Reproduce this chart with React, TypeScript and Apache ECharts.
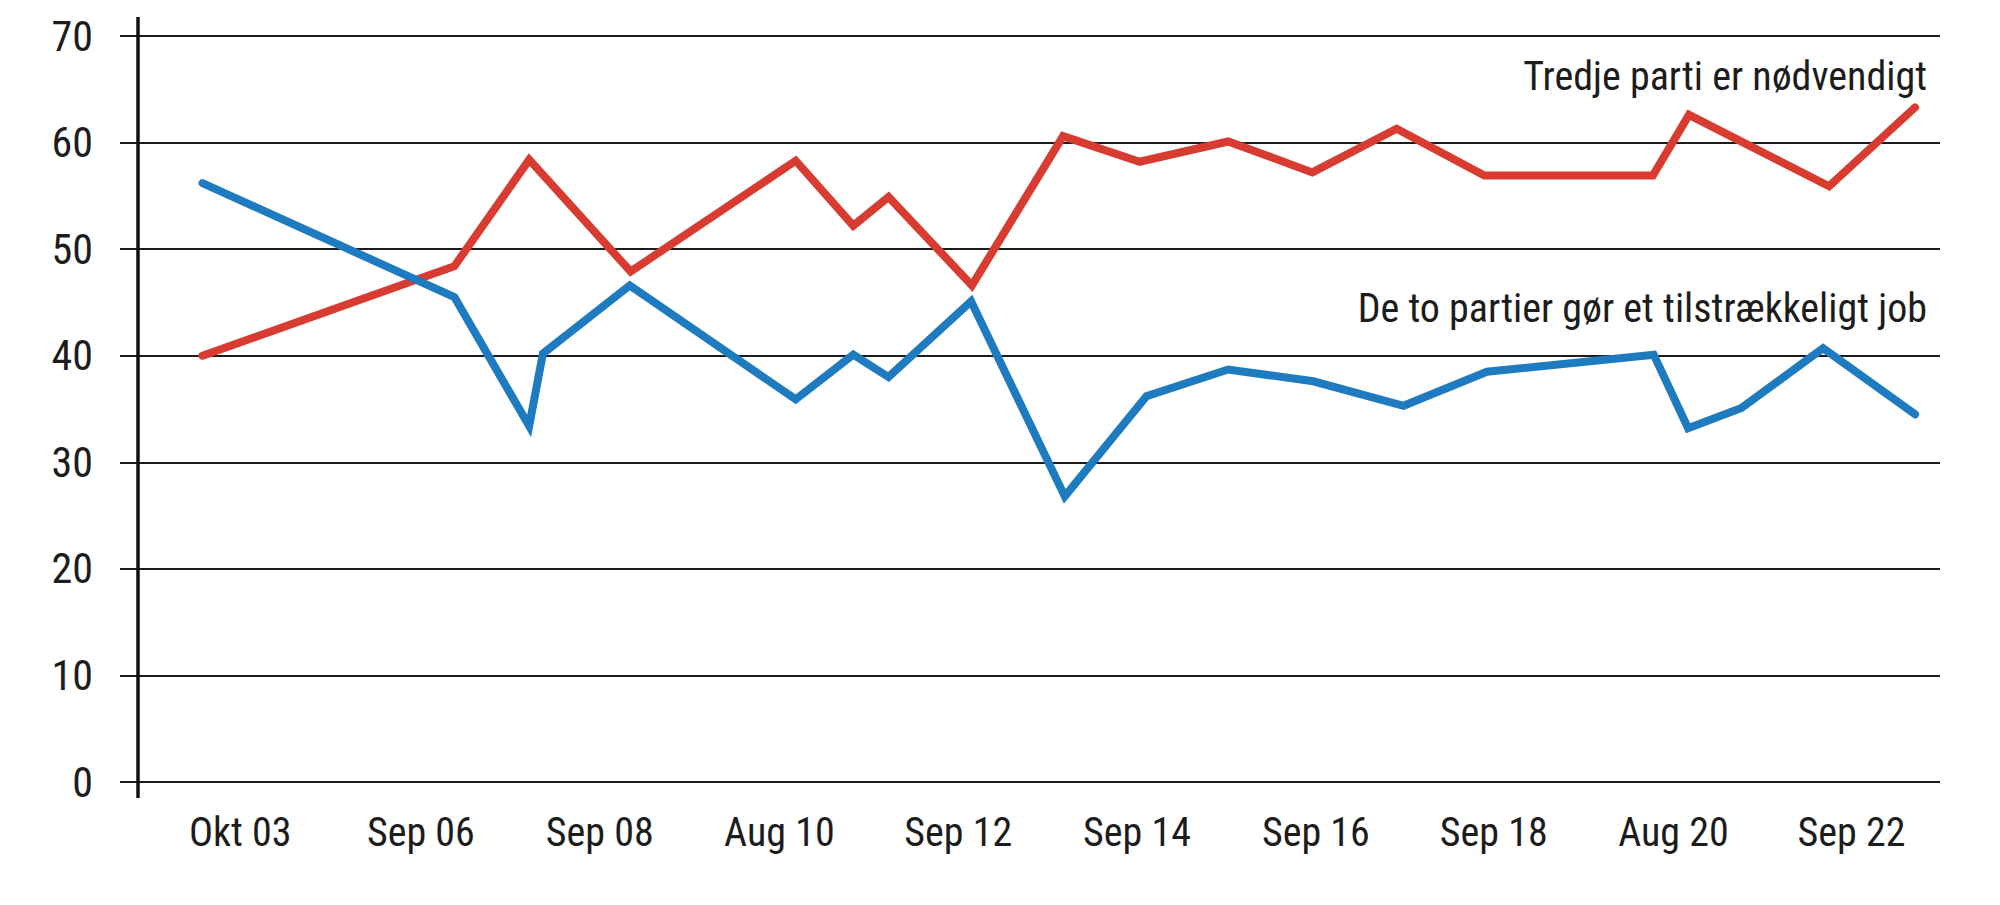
import React, { useEffect, useRef } from "react";
import * as echarts from "echarts";

// x values are decimal years
const redX = [2003.75, 2006.68, 2007.55, 2008.73, 2010.65, 2011.32, 2011.73, 2012.7, 2013.76, 2014.65, 2015.68, 2016.66, 2017.64, 2018.66, 2020.62, 2021.04, 2022.67, 2023.67];
const redY = [40.0, 48.4, 58.4, 47.9, 58.3, 52.2, 54.9, 46.6, 60.6, 58.2, 60.1, 57.2, 61.3, 56.9, 56.9, 62.6, 55.9, 63.3];

const blueX = [2003.75, 2006.68, 2007.55, 2007.71, 2008.72, 2010.65, 2011.32, 2011.73, 2012.69, 2013.78, 2014.73, 2015.68, 2016.67, 2017.72, 2018.69, 2020.63, 2021.03, 2021.65, 2022.6, 2023.67];
const blueY = [56.2, 45.5, 33.4, 40.2, 46.6, 35.9, 40.1, 38.0, 45.1, 26.8, 36.2, 38.7, 37.6, 35.3, 38.5, 40.1, 33.2, 35.1, 40.7, 34.5];

const tickLabels = ["Okt 03", "Sep 06", "Sep 08", "Aug 10", "Sep 12", "Sep 14", "Sep 16", "Sep 18", "Aug 20", "Sep 22"];
const tickValues = [2004.19, 2006.29, 2008.37, 2010.46, 2012.54, 2014.62, 2016.7, 2018.77, 2020.86, 2022.93];

const redName = "Tredje parti er nødvendigt";
const blueName = "De to partier gør et tilstrækkeligt job";

const FONT = "'Liberation Sans Narrow', 'Roboto Condensed', 'DejaVu Sans Condensed', sans-serif";
const RED = "#d83b30";
const BLUE = "#1f7bbf";
const INK = "#1c1c1c";

export default function App() {
  const ref = useRef<HTMLDivElement>(null);
  useEffect(() => {
    if (!ref.current) return;
    const chart = echarts.init(ref.current, null, { renderer: "svg" });
    chart.setOption({
      animation: false,
      backgroundColor: "#ffffff",
      grid: { left: 138, right: 60, top: 36, bottom: 123, containLabel: false },
      xAxis: {
        type: "value",
        min: 2003,
        max: 2023.96,
        axisLine: { show: false },
        axisTick: { show: false },
        splitLine: { show: false },
        axisLabel: {
          customValues: tickValues,
          margin: 30,
          color: INK,
          fontSize: 40,
          lineHeight: 40,
          fontFamily: FONT,
          formatter: (v: number) => {
            let best = 0;
            let bd = Infinity;
            tickValues.forEach((t, i) => {
              const d = Math.abs(t - v);
              if (d < bd) { bd = d; best = i; }
            });
            return tickLabels[best];
          },
        },
      },
      yAxis: {
        type: "value",
        min: 0,
        max: 70,
        interval: 10,
        axisLine: { show: false },
        axisTick: { show: true, length: 18, lineStyle: { color: INK, width: 2 } },
        splitLine: { show: true, lineStyle: { color: INK, width: 2 } },
        axisLabel: { margin: 45, color: INK, fontSize: 42, fontFamily: FONT },
      },
      graphic: [
        { type: "line", z: 100, shape: { x1: 138, y1: 17, x2: 138, y2: 798 }, style: { stroke: "#111", lineWidth: 3.5 } },
        { type: "text", x: 1927, y: 76, style: { text: redName, fill: INK, font: `40px ${FONT}`, textAlign: "right", textVerticalAlign: "middle" } },
        { type: "text", x: 1927, y: 308, style: { text: blueName, fill: INK, font: `40px ${FONT}`, textAlign: "right", textVerticalAlign: "middle" } },
      ],
      series: [
        {
          name: redName,
          type: "line",
          data: redX.map((x, i) => [x, redY[i]]),
          showSymbol: false,
          symbol: "none",
          lineStyle: { color: RED, width: 8, cap: "round", join: "miter" },
          z: 3,
        },
        {
          name: blueName,
          type: "line",
          data: blueX.map((x, i) => [x, blueY[i]]),
          showSymbol: false,
          symbol: "none",
          lineStyle: { color: BLUE, width: 8, cap: "round", join: "miter" },
          z: 4,
        },
      ],
    });
    return () => chart.dispose();
  }, []);
  return <div ref={ref} style={{ position: "absolute", left: 0, top: 0, width: 2000, height: 905 }} />;
}
